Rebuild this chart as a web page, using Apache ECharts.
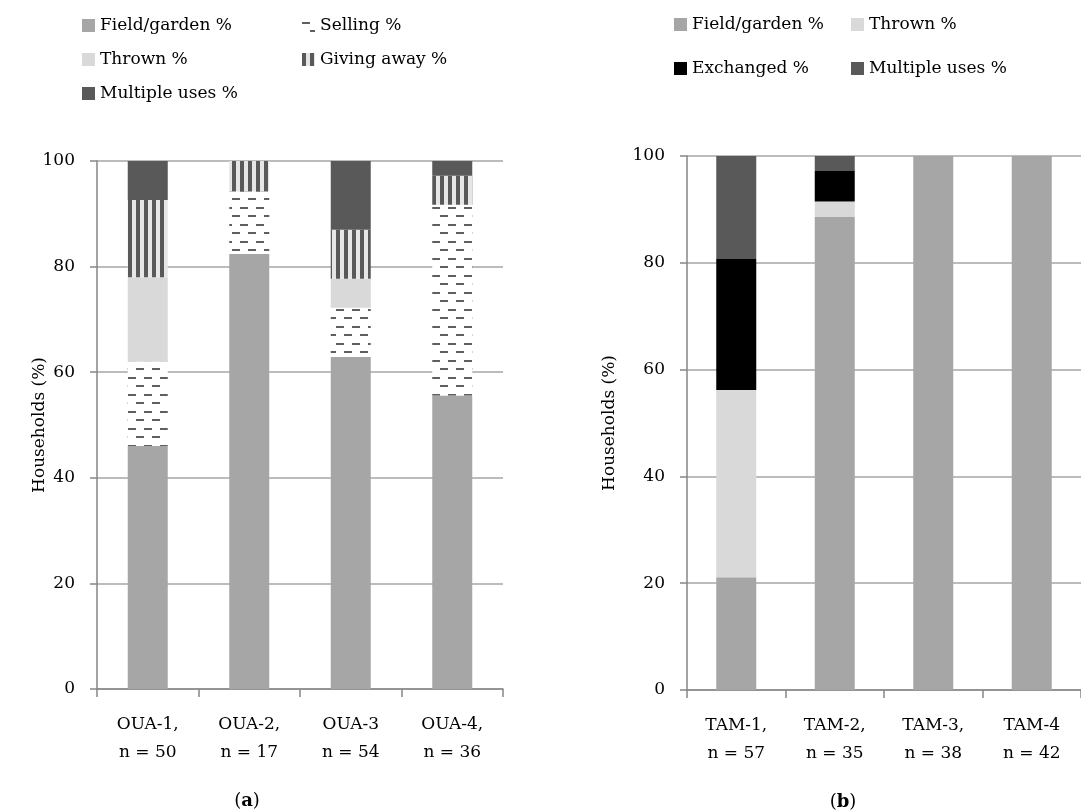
<!DOCTYPE html>
<html>
<head>
<meta charset="utf-8">
<script src="https://cdn.jsdelivr.net/npm/echarts@6/dist/echarts.min.js"></script>
<style>
html,body{margin:0;padding:0;background:#fff;}
#chart{width:1081px;height:812px;}
</style>
</head>
<body>
<div id="chart"></div>
<script>
// ---- data ----
var catsA = ['OUA-1,\nn = 50', 'OUA-2,\nn = 17', 'OUA-3\nn = 54', 'OUA-4,\nn = 36'];
var fieldA = [46, 82.4, 62.9, 55.6];
var sellingA = [16, 11.8, 9.3, 36.1];
var thrownA = [16, 0, 5.5, 0];
var givingA = [14.6, 5.8, 9.3, 5.5];
var multipleA = [7.4, 0, 13.0, 2.8];

var catsB = ['TAM-1,\nn = 57', 'TAM-2,\nn = 35', 'TAM-3,\nn = 38', 'TAM-4\nn = 42'];
var fieldB = [21.1, 88.6, 100, 100];
var thrownB = [35.1, 2.9, 0, 0];
var exchangedB = [24.5, 5.7, 0, 0];
var multipleB = [19.3, 2.8, 0, 0];

var yName = 'Households (%)';

// ---- patterns ----
function sellingPattern() {
  var c = document.createElement('canvas');
  c.width = 16; c.height = 17;
  var g = c.getContext('2d');
  g.fillStyle = '#ffffff'; g.fillRect(0, 0, 16, 17);
  g.fillStyle = '#5f5f5f';
  g.fillRect(0, 3, 8, 2);
  g.fillRect(8, 11, 8, 2);
  return c;
}
function givingPattern() {
  var c = document.createElement('canvas');
  c.width = 8; c.height = 8;
  var g = c.getContext('2d');
  g.fillStyle = '#e6e6e6'; g.fillRect(0, 0, 8, 8);
  g.fillStyle = '#595959'; g.fillRect(0, 0, 4, 8);
  return c;
}

var FONT = 'DejaVu Serif';
var C_FIELD = '#a6a6a6', C_THROWN = '#d9d9d9', C_MULTI = '#595959', C_EXCH = '#000000';
var sellFill = {image: sellingPattern(), repeat: 'repeat'};
var giveFill = {image: givingPattern(), repeat: 'repeat'};

function xAxis(idx, cats) {
  return {
    type: 'category', gridIndex: idx, data: cats,
    axisLine: {lineStyle: {color: '#868686', width: 1.5}},
    axisTick: {show: true, length: 8, lineStyle: {color: '#868686', width: 1.5}},
    axisLabel: {color: '#000', fontFamily: FONT, fontSize: 17, lineHeight: 28, margin: 22, interval: 0}
  };
}
function yAxis(idx) {
  return {
    type: 'value', gridIndex: idx, min: 0, max: 100, interval: 20,
    axisLine: {show: true, lineStyle: {color: '#868686', width: 1.5}},
    axisTick: {show: true, length: 7, lineStyle: {color: '#868686', width: 1.5}},
    axisLabel: {color: '#000', fontFamily: FONT, fontSize: 17, margin: 22},
    splitLine: {show: true, lineStyle: {color: '#a6a6a6', width: 1.5}}
  };
}
function bar(name, data, color, xi, stack) {
  return {
    name: name, type: 'bar', stack: stack, xAxisIndex: xi, yAxisIndex: xi,
    data: data, barWidth: 40, itemStyle: {color: color},
    emphasis: {disabled: true}, animation: false
  };
}
function legendItem(name, left, centerY) {
  return {
    data: [name], left: left, top: centerY - 9, padding: 0,
    itemWidth: 13, itemHeight: 13, icon: 'rect', selectedMode: false,
    textStyle: {color: '#000', fontFamily: FONT, fontSize: 17}
  };
}
function yTitle(x, y) {
  return {type: 'text', x: x, y: y, rotation: Math.PI / 2,
    style: {text: yName, fill: '#000', font: '17px "DejaVu Serif"', align: 'center', verticalAlign: 'middle'}};
}

var option = {
  backgroundColor: '#ffffff',
  animation: false,
  grid: [
    {left: 97, top: 161, width: 406, height: 528},
    {left: 687, top: 156, width: 407, height: 534}
  ],
  xAxis: [xAxis(0, catsA), xAxis(1, catsB)],
  yAxis: [yAxis(0), yAxis(1)],
  legend: [
    legendItem('Field/garden %', 82, 26),
    legendItem('Thrown %', 82, 60),
    legendItem('Multiple uses %', 82, 94),
    legendItem('Selling %', 302, 26),
    legendItem('Giving away %', 302, 60),
    legendItem('Field/garden %', 674, 25),
    legendItem('Exchanged %', 674, 69),
    legendItem('Thrown %', 851, 25),
    legendItem('Multiple uses %', 851, 69)
  ],
  series: [
    bar('Field/garden %', fieldA, C_FIELD, 0, 'a'),
    bar('Selling %', sellingA, sellFill, 0, 'a'),
    bar('Thrown %', thrownA, C_THROWN, 0, 'a'),
    bar('Giving away %', givingA, giveFill, 0, 'a'),
    bar('Multiple uses %', multipleA, C_MULTI, 0, 'a'),
    bar('Field/garden %', fieldB, C_FIELD, 1, 'b'),
    bar('Thrown %', thrownB, C_THROWN, 1, 'b'),
    bar('Exchanged %', exchangedB, C_EXCH, 1, 'b'),
    bar('Multiple uses %', multipleB, C_MULTI, 1, 'b')
  ],
  graphic: [
    yTitle(40, 425),
    yTitle(610, 423),
    {type: 'text', x: 247, y: 801, style: {text: '({b|a})', fill: '#000', font: '18px "DejaVu Serif"', align: 'center', verticalAlign: 'middle',
      rich: {b: {fontWeight: 'bold', fontFamily: FONT, fontSize: 18, fill: '#000'}}}},
    {type: 'text', x: 843, y: 802, style: {text: '({b|b})', fill: '#000', font: '18px "DejaVu Serif"', align: 'center', verticalAlign: 'middle',
      rich: {b: {fontWeight: 'bold', fontFamily: FONT, fontSize: 18, fill: '#000'}}}}
  ]
};

var chart = echarts.init(document.getElementById('chart'), null, {renderer: 'canvas'});
chart.setOption(option);
</script>
</body>
</html>
